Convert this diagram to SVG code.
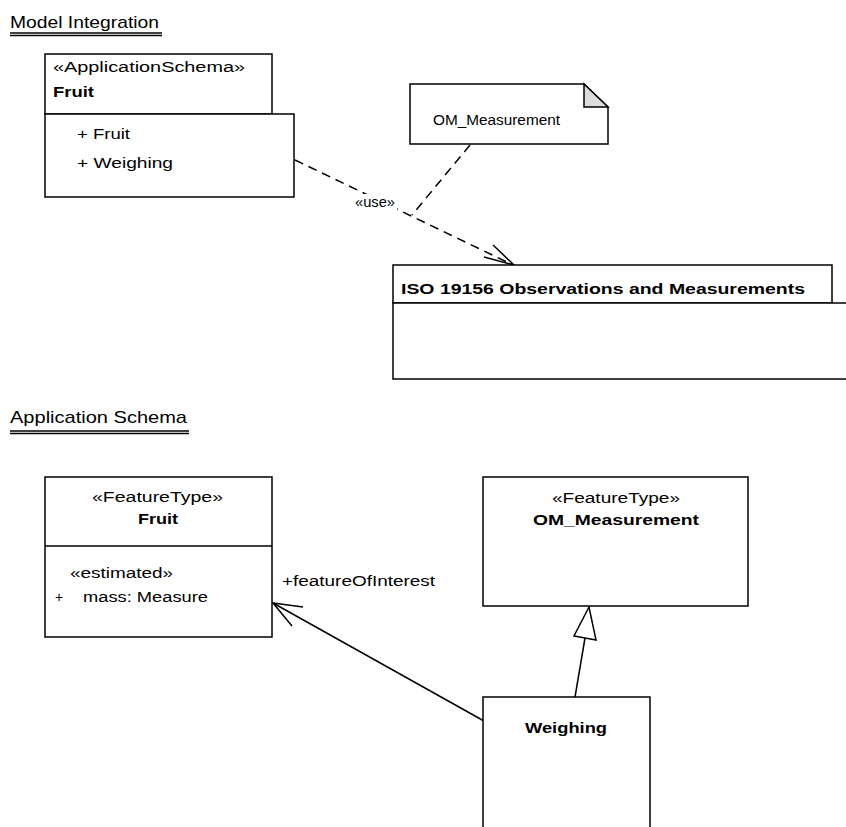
<svg xmlns="http://www.w3.org/2000/svg" width="846" height="827" viewBox="0 0 846 827">
<style>
  text { font-family: "Liberation Sans", Arial, sans-serif; fill: #000; }
  .title { font-size: 17px; }
  .t { font-size: 14px; }
  .b { font-size: 14px; font-weight: bold; }
  .box { fill: #fff; stroke: #000; stroke-width: 1.5; }
  .ln { fill: none; stroke: #000; stroke-width: 1.5; }
  .dash { fill: none; stroke: #000; stroke-width: 1.5; stroke-dasharray: 9 6; }
</style>
<rect width="846" height="827" fill="#fff"/>

<g id="title-model-integration">
  <text class="title" x="10" y="28" textLength="149" lengthAdjust="spacingAndGlyphs">Model Integration</text>
  <line class="ln" x1="10" y1="33" x2="162" y2="33" stroke-width="1"/>
  <line class="ln" x1="10" y1="35.5" x2="162" y2="35.5" stroke-width="1"/>
</g>

<g id="title-application-schema">
  <text class="title" x="10" y="423" textLength="177" lengthAdjust="spacingAndGlyphs">Application Schema</text>
  <line class="ln" x1="10" y1="431" x2="189" y2="431" stroke-width="1"/>
  <line class="ln" x1="10" y1="433.5" x2="189" y2="433.5" stroke-width="1"/>
</g>

<g id="connectors">
  <!-- use dependency -->
  <polyline class="dash" points="295,160 513,265"/>
  <polyline class="ln" points="493,245 514,265 484,257"/>
  <rect x="353" y="194" width="44" height="16" fill="#fff"/>
  <text class="t" x="355" y="207" textLength="40" lengthAdjust="spacingAndGlyphs">«use»</text>
  <!-- note anchor -->
  <line class="dash" x1="470" y1="145" x2="412" y2="215"/>
  <!-- association -->
  <line class="ln" x1="273" y1="603" x2="484" y2="721"/>
  <polyline class="ln" points="303,607 273,603 292,626"/>
  <text class="t" x="282" y="586" textLength="153" lengthAdjust="spacingAndGlyphs">+featureOfInterest</text>
  <!-- generalization -->
  <line class="ln" x1="575" y1="697" x2="585" y2="638"/>
  <polygon class="box" points="589,607 574,636 596,640"/>
</g>

<g id="pkg-fruit">
  <rect class="box" x="45" y="54" width="227" height="60"/>
  <rect class="box" x="45" y="114" width="249" height="83"/>
  <text class="t" x="53" y="72" textLength="192" lengthAdjust="spacingAndGlyphs">«ApplicationSchema»</text>
  <text class="b" x="53" y="97" textLength="41" lengthAdjust="spacingAndGlyphs">Fruit</text>
  <text class="t" x="77" y="139" textLength="53" lengthAdjust="spacingAndGlyphs">+ Fruit</text>
  <text class="t" x="77" y="168" textLength="96" lengthAdjust="spacingAndGlyphs">+ Weighing</text>
</g>

<g id="note-om">
  <path class="box" d="M410,84 L584,84 L608,107 L608,144 L410,144 Z"/>
  <path d="M584,84 L584,107 L608,107 Z" fill="#dcdcdc" stroke="#000" stroke-width="1.5" stroke-linejoin="miter"/>
  <text class="t" x="433" y="125" textLength="127" lengthAdjust="spacingAndGlyphs">OM_Measurement</text>
</g>

<g id="pkg-iso">
  <rect class="box" x="393" y="265" width="439" height="38"/>
  <rect class="box" x="393" y="303" width="460" height="76"/>
  <text class="b" x="401" y="294" textLength="404" lengthAdjust="spacingAndGlyphs" style="font-size:15px">ISO 19156 Observations and Measurements</text>
</g>

<g id="class-fruit">
  <rect class="box" x="45" y="477" width="227" height="160"/>
  <line class="ln" x1="45" y1="546" x2="272" y2="546"/>
  <text class="t" x="92" y="502" textLength="131" lengthAdjust="spacingAndGlyphs">«FeatureType»</text>
  <text class="b" x="138" y="524" textLength="40" lengthAdjust="spacingAndGlyphs">Fruit</text>
  <text class="t" x="70" y="578" textLength="103" lengthAdjust="spacingAndGlyphs">«estimated»</text>
  <text class="t" x="55" y="602">+</text>
  <text class="t" x="83" y="602" textLength="125" lengthAdjust="spacingAndGlyphs">mass: Measure</text>
</g>

<g id="class-om-measurement">
  <rect class="box" x="483" y="477" width="265" height="129"/>
  <text class="t" x="552" y="503" textLength="128" lengthAdjust="spacingAndGlyphs">«FeatureType»</text>
  <text class="b" x="533" y="525" textLength="166" lengthAdjust="spacingAndGlyphs">OM_Measurement</text>
</g>

<g id="class-weighing">
  <rect class="box" x="483" y="697" width="167" height="150"/>
  <text class="b" x="525" y="733" textLength="82" lengthAdjust="spacingAndGlyphs">Weighing</text>
</g>
</svg>
